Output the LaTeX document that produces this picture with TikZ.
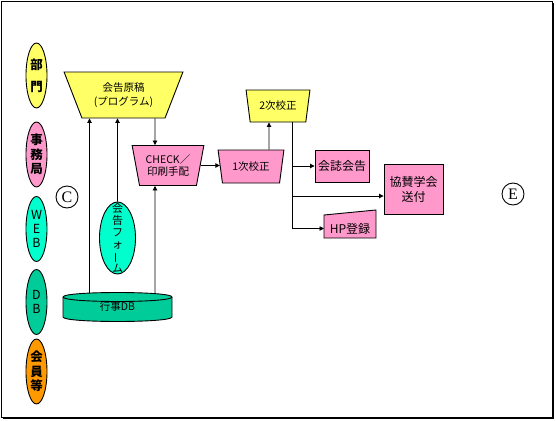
\documentclass[tikz,border=0pt]{standalone}
\usepackage{fontspec}
\setmainfont{Noto Sans CJK JP}
\newfontfamily\romanletter{Liberation Serif}
\usepackage{graphicx}
\usetikzlibrary{arrows.meta,shapes.geometric}
\definecolor{memoyellow}{HTML}{FFFF66}
\definecolor{memopink}{HTML}{FF99CC}
\definecolor{memoaqua}{HTML}{00FFCC}
\definecolor{memoteal}{HTML}{00CC99}
\definecolor{memoorange}{HTML}{FF9900}
\newcommand{\tatebar}{\rotatebox[origin=c]{90}{ー}}
\newcommand{\fs}[2]{\fontsize{#1}{#2}\selectfont}

\begin{document}
\begin{tikzpicture}[x=1pt,y=-1pt,line width=0.9pt,>={Triangle[length=4.5pt,width=4.5pt]},
    every node/.style={font=\small},
    trap/.style={trapezium,trapezium stretches=true,shape border rotate=180,draw,align=center,inner sep=1pt},
    tag/.style={ellipse,draw,minimum width=21pt,minimum height=65pt,inner sep=0pt,align=center,font=\bfseries\fs{12.5}{14.5}},
    memo/.style={rectangle,draw,fill=memopink,align=center,inner sep=0pt},
    ringtag/.style={circle,draw,minimum size=22pt,inner sep=0pt,font=\romanletter\fs{16}{16}}]
    \useasboundingbox (0,0) rectangle (556,420);
    \draw (1.5,1.5) rectangle (552,417);
    \fill (3,416.5) rectangle (554,419);
    \fill (551.5,3) rectangle (554,419);

    \node[tag,fill=memoyellow,font=\bfseries\fs{12.5}{22}] (bumon) at (36.5,75.5) {部\\門};
    \node[tag,fill=memopink] (jimu) at (36.5,154.5) {事\\務\\局};
    \node[tag,fill=memoaqua,font=\fs{12.5}{14}] (web) at (36.5,229) {W\\E\\B};
    \node[tag,fill=memoteal,font=\fs{12.5}{14}] (dblabel) at (36.5,302) {D\\B};
    \node[tag,fill=memoorange] (kaiin) at (36.5,371.5) {会\\員\\等};

    \node[ringtag] (cmark) at (67,197) {C};
    \node[ringtag] (emark) at (513,194) {E};

    \node[trap,fill=memoyellow,minimum width=119pt,minimum height=46pt,trapezium angle=63.9,font=\fs{10.5}{14}] (gen) at (123.5,95) {会告原稿\\(プログラム)};
    \node[trap,fill=memopink,minimum width=72pt,minimum height=40pt,trapezium angle=76,font=\fs{10.5}{12.5}] (chk) at (168,165.5) {CHECK／\\印刷手配};
    \node[trap,fill=memopink,minimum width=66pt,minimum height=33pt,trapezium angle=75.6,font=\fs{10.5}{12}] (ichi) at (251,166.5) {1次校正};
    \node[trap,fill=memoyellow,minimum width=64pt,minimum height=32pt,trapezium angle=76,font=\fs{10.5}{12}] (ni) at (278,106) {2次校正};

    \node[ellipse,draw,fill=memoaqua,minimum width=36pt,minimum height=72pt] (form) at (117.5,238) {};
    \node[align=center,inner sep=0pt,font=\fs{11}{12}] (formtext) at (form.center) {会\\告\\フ\\ォ\\\tatebar\\ム};

    \filldraw[fill=memoteal] (63,297) -- (63,317) .. controls (63,323) and (172,323) .. (172,317)
      -- (172,297) .. controls (172,291) and (63,291) .. (63,297) -- cycle;
    \draw (63,297) .. controls (63,303) and (172,303) .. (172,297);
    \node[minimum width=109pt,minimum height=28pt,inner sep=0pt,outer sep=0pt,font=\fs{10.5}{12}] (db) at (117.5,307) {行事DB};

    \node[memo,minimum width=54pt,minimum height=32pt,font=\fs{12}{14}] (kaishi) at (342,166) {会誌会告};
    \node[memo,minimum width=59pt,minimum height=50pt,font=\fs{12}{15}] (kyosan) at (413.5,189) {協賛学会\\送付};
    \filldraw[fill=memopink] (324,215) -- (376,210) -- (376,238) -- (324,238) -- cycle;
    \node[minimum width=52pt,minimum height=20pt,inner sep=0pt,outer sep=0pt,font=\fs{12}{14}] (hp) at (350,228.5) {HP登録};

    \draw[->] ([xshift=31.5pt]gen.south) -- ([xshift=-13pt]chk.north);
    \draw[->] ([xshift=-28pt]db.north) -- ([xshift=-34pt]gen.south);
    \draw[->] (form.north) -- ([xshift=-6pt]gen.south);
    \draw[->] ([xshift=37.5pt]db.north) -- ([xshift=-13pt]chk.south);
    \draw[->] (chk.east) -- (chk.east -| ichi.west);
    \draw[->] ([xshift=18pt]ichi.north) -- ([xshift=-9pt]ni.south);
    \coordinate (trunk) at ([xshift=14pt]ni.south);
    \coordinate (kyin) at ([yshift=-7pt]kyosan.west);
    \draw[->] (trunk) |- (hp.west);
    \draw[->] (trunk |- kaishi.west) -- (kaishi.west);
    \draw[->] (trunk |- kyin) -- (kyin);
\end{tikzpicture}
\end{document}
